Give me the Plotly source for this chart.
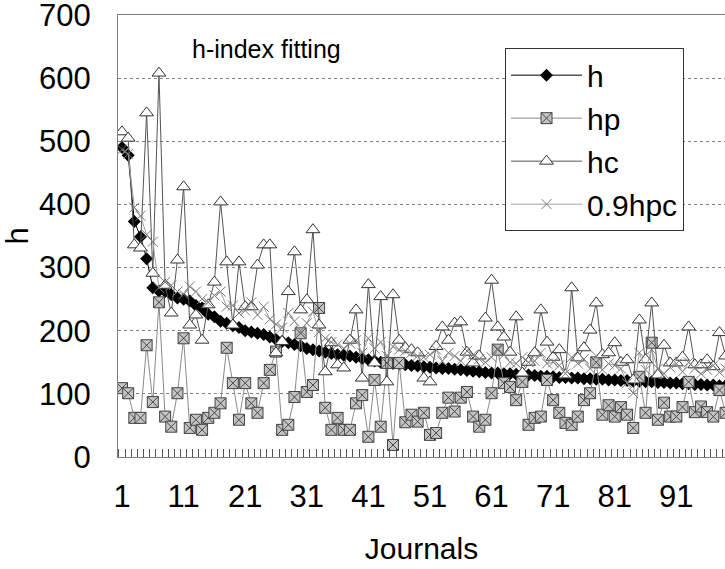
import plotly.graph_objects as go

# journal rank (x categories)
journals = list(range(1, 101))
x_tick_vals = [1, 11, 21, 31, 41, 51, 61, 71, 81, 91]
x_tick_labels = ["1", "11", "21", "31", "41", "51", "61", "71", "81", "91"]

h = [490, 478, 373, 349, 314, 268, 263, 262, 257, 252,
     250, 247, 240, 236, 226, 222, 215, 212, 208, 205,
     200, 198, 196, 194, 190, 186, 183, 181, 178, 176,
     172, 170, 168, 166, 164, 162, 161, 160, 158, 156,
     154, 152, 150, 149, 148, 147, 146, 145, 144, 143,
     142, 141, 140, 140, 139, 138, 137, 136, 135, 134,
     133, 133, 132, 132, 131, 130, 130, 129, 128, 128,
     127, 126, 126, 125, 125, 124, 124, 123, 123, 122,
     122, 121, 121, 120, 120, 119, 119, 118, 118, 117,
     117, 116, 116, 115, 115, 114, 114, 113, 113, 112]

hp = [109, 101, 62, 62, 177, 87, 245, 64, 48, 101,
      188, 46, 59, 43, 62, 70, 85, 173, 117, 59,
      117, 85, 70, 117, 138, 167, 43, 51, 95, 196,
      103, 114, 236, 78, 43, 62, 43, 43, 85, 98,
      32, 122, 48, 149, 19, 149, 55, 67, 56, 70,
      35, 38, 70, 94, 72, 94, 103, 64, 48, 59,
      101, 170, 117, 111, 90, 119, 51, 62, 64, 122,
      90, 70, 54, 51, 64, 90, 101, 150, 67, 82,
      64, 79, 67, 46, 127, 70, 181, 59, 86, 64,
      64, 79, 119, 71, 80, 71, 64, 106, 70, 65]

hc = [515, 505, 336, 331, 545, 291, 608, 272, 228, 312,
      428, 209, 225, 185, 241, 277, 404, 309, 209, 309,
      238, 238, 304, 336, 336, 165, 183, 262, 325, 233,
      249, 360, 209, 135, 181, 146, 141, 185, 233, 125,
      273, 149, 254, 119, 257, 185, 173, 170, 165, 125,
      119, 175, 206, 185, 212, 214, 166, 149, 160, 220,
      280, 206, 190, 166, 222, 133, 150, 165, 233, 182,
      158, 170, 130, 268, 157, 173, 201, 244, 162, 165,
      181, 150, 154, 122, 217, 154, 244, 130, 177, 149,
      149, 158, 206, 146, 146, 154, 143, 197, 160, 150]

hpc09 = [487, 480, 395, 382, 352, 341, 268, 277, 272, 262,
         258, 270, 262, 250, 245, 256, 262, 238, 240, 228,
         232, 245, 225, 238, 218, 210, 205, 228, 215, 200,
         212, 230, 198, 188, 182, 178, 172, 180, 185, 165,
         188, 172, 182, 160, 175, 170, 168, 165, 160, 158,
         162, 170, 152, 165, 160, 152, 168, 162, 155, 150,
         158, 172, 162, 150, 148, 158, 150, 152, 165, 148,
         150, 145, 132, 158, 148, 155, 140, 160, 138, 148,
         145, 140, 117, 101, 165, 138, 170, 140, 132, 142,
         148, 135, 150, 140, 132, 138, 145, 134, 140, 136]

FONT = "Liberation Sans, Arial, sans-serif"

fig = go.Figure()

fig.add_trace(go.Scatter(
    x=journals, y=h, name="h", mode="lines+markers", legendgroup="h",
    line=dict(color="#000000", width=1),
    marker=dict(symbol="diamond", size=10, color="#000000"),
))
fig.add_trace(go.Scatter(
    x=journals, y=hp, name="hp", mode="lines+markers", legendgroup="hp",
    line=dict(color="#8a8a8a", width=1),
    marker=dict(symbol="square-x", size=11, color="#c4c4c4",
                line=dict(color="#444444", width=1)),
))
fig.add_trace(go.Scatter(
    x=journals, y=hc, name="hc", mode="lines+markers", legendgroup="hc",
    line=dict(color="#555555", width=1),
    marker=dict(symbol="triangle-up", size=12, color="#ffffff",
                line=dict(color="#333333", width=1)),
))
fig.add_trace(go.Scatter(
    x=journals, y=hpc09, name="0.9hpc", mode="lines+markers", legendgroup="hpc",
    line=dict(color="#a0a0a0", width=1),
    marker=dict(symbol="x-thin", size=10, color="#7a7a7a",
                line=dict(color="#7a7a7a", width=1)),
))

fig.add_annotation(
    text="h-index fitting", xref="paper", yref="paper",
    x=0.118, y=0.96, xanchor="left", yanchor="top", showarrow=False,
    font=dict(family=FONT, size=25, color="#000000"),
)

fig.update_xaxes(
    range=[0.35, 98.9], automargin=False,
    tickmode="array", tickvals=x_tick_vals, ticktext=x_tick_labels,
    ticks="", showgrid=False, zeroline=False,
    showline=True, linecolor="#808080", linewidth=1, mirror=True,
    tickfont=dict(family=FONT, size=31, color="#000000"),
    ticklabelstandoff=12, ticklabeloverflow="allow",
    minor=dict(tickmode="linear", tick0=0.5, dtick=1, ticks="inside",
               ticklen=8, tickcolor="#555555", showgrid=False),
    title=dict(text="Journals", font=dict(family=FONT, size=30, color="#000000"),
               standoff=24),
)
fig.update_yaxes(
    range=[0, 700], dtick=100, tickmode="linear", automargin=False,
    showgrid=True, gridcolor="#808080", gridwidth=1, griddash="3px,3px",
    zeroline=False, showline=True, linecolor="#808080", linewidth=1,
    ticks="", tickfont=dict(family=FONT, size=31, color="#000000"),
    ticklabelstandoff=20, ticklabeloverflow="allow",
    title=dict(text="h", font=dict(family=FONT, size=31, color="#000000"),
               standoff=36),
)

fig.update_layout(
    width=725, height=569,
    margin=dict(l=118, r=0, t=15, b=112),
    paper_bgcolor="#ffffff", plot_bgcolor="#ffffff",
    showlegend=True,
    legend=dict(
        x=0.6376, y=0.925, xanchor="left", yanchor="top",
        bgcolor="#ffffff", bordercolor="#333333", borderwidth=1,
        font=dict(family=FONT, size=30, color="#000000"),
        tracegroupgap=1, itemwidth=71,
    ),
)

# drop the browser's default 8px page margin so the figure sits at the corner
fig.write_html(
    "out.html",
    config={"displayModeBar": False},
    post_script="document.body.style.margin = '0px';",
)
